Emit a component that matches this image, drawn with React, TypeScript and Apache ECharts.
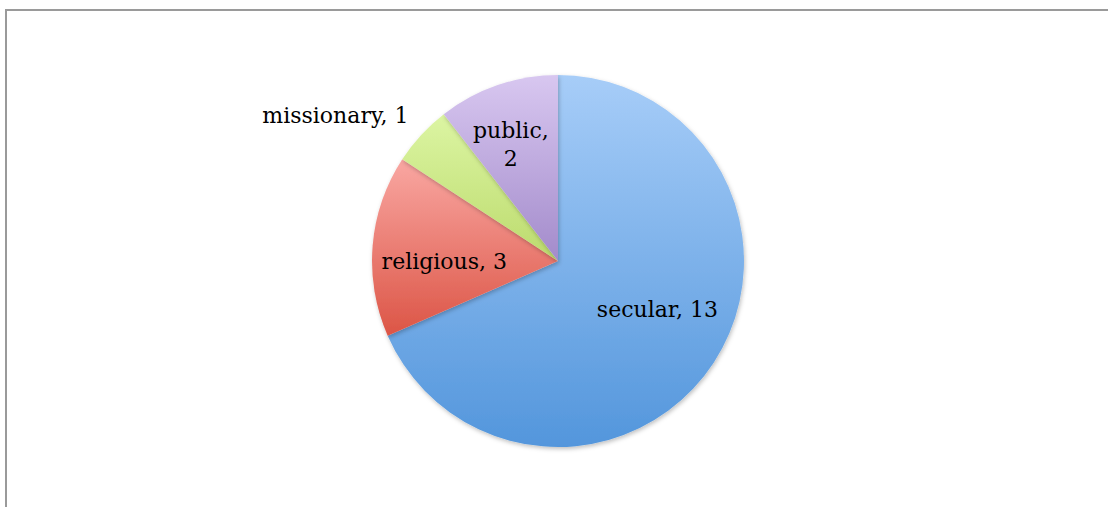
import React, { useEffect, useRef } from "react";
import * as echarts from "echarts";

const categories = ["secular", "religious", "missionary", "public"];
const values = [13, 3, 1, 2];
const labelTexts = ["secular, 13", "religious, 3", "missionary, 1", "public,\n2"];
const gradients = [
  ["#a7cdf8", "#5396dc"],
  ["#f9a7a2", "#dc5546"],
  ["#dcf5a3", "#bcdb6d"],
  ["#d8c7f0", "#a38bcb"],
];
const labelShift = [
  [19, -4],
  [-18, 8],
  [-152, -80],
  [-16, -26],
];

export default function App() {
  const ref = useRef<HTMLDivElement>(null);
  useEffect(() => {
    if (!ref.current) return;
    const chart = echarts.init(ref.current, null, { renderer: "svg" });
    chart.setOption({
      animation: false,
      backgroundColor: "#ffffff",
      graphic: [
        { type: "line", shape: { x1: 5, y1: 10, x2: 1108, y2: 10 }, style: { stroke: "#9a9a9a", lineWidth: 2 } },
        { type: "line", shape: { x1: 6, y1: 9, x2: 6, y2: 507 }, style: { stroke: "#9a9a9a", lineWidth: 2 } },
      ],
      series: [
        {
          type: "pie",
          center: [558, 261],
          radius: 186,
          startAngle: 90,
          clockwise: true,
          avoidLabelOverlap: false,
          labelLine: { show: false },
          label: {
            show: true,
            position: "inside",
            fontFamily: "DejaVu Serif",
            fontSize: 22,
            lineHeight: 28,
            color: "#000000",
            formatter: (p: any) => labelTexts[p.dataIndex],
          },
          labelLayout: (p: any) => ({ dx: labelShift[p.dataIndex][0], dy: labelShift[p.dataIndex][1] }),
          itemStyle: {
            borderWidth: 0,
            shadowBlur: 4,
            shadowOffsetX: 1,
            shadowOffsetY: 2,
            shadowColor: "rgba(0,0,0,0.25)",
          },
          emphasis: { disabled: true },
          data: categories.map((c, i) => ({
            name: c,
            value: values[i],
            itemStyle: {
              color: new echarts.graphic.LinearGradient(0, 0, 0, 1, [
                { offset: 0, color: gradients[i][0] },
                { offset: 1, color: gradients[i][1] },
              ]),
            },
          })),
        },
      ],
    });
    return () => chart.dispose();
  }, []);
  return <div ref={ref} style={{ position: "fixed", left: 0, top: 0, width: 1108, height: 507 }} />;
}
